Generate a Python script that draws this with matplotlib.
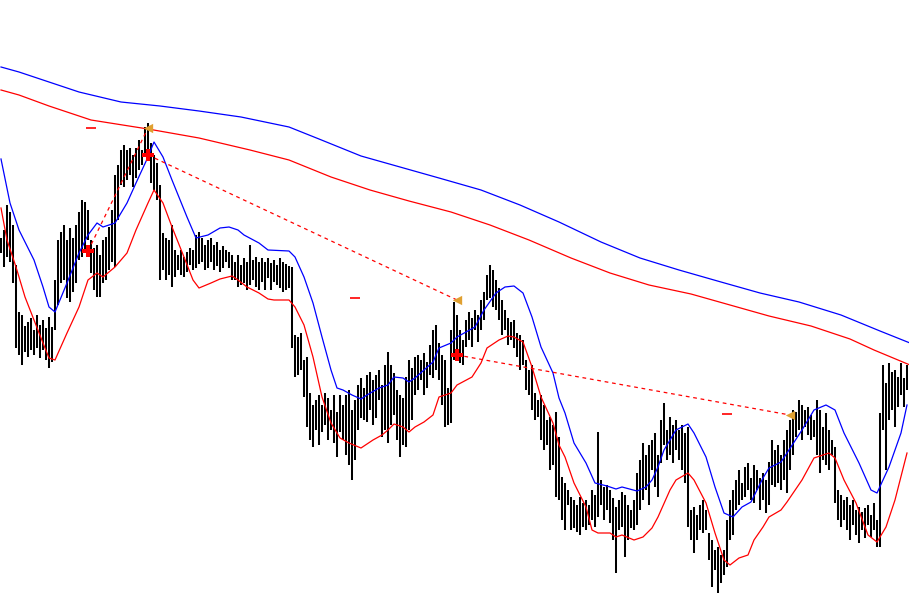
import matplotlib
matplotlib.use("Agg")
import matplotlib.pyplot as plt

# ---- bar data (high / low per bar, arbitrary price units) ----
highs = [362, 370, 395, 388, 375, 335, 288, 285, 274, 278, 282, 270, 285, 275, 280, 272, 283, 273, 320, 360,
         368, 375, 360, 372, 362, 375, 388, 400, 398, 390, 360, 352, 355, 345, 360, 363, 373, 390, 425, 435,
         450, 455, 450, 452, 445, 452, 460, 450, 473, 477, 457, 445, 437, 415, 367, 362, 360, 375, 350, 345,
         350, 343, 348, 352, 350, 365, 368, 362, 355, 360, 362, 355, 358, 350, 354, 350, 348, 345, 338, 345,
         335, 342, 338, 355, 340, 343, 338, 342, 338, 342, 337, 340, 335, 342, 338, 336, 334, 333, 265, 263,
         267, 240, 243, 207, 195, 200, 205, 195, 207, 202, 190, 205, 188, 205, 195, 205, 210, 190, 200, 215,
         222, 212, 225, 228, 220, 225, 230, 215, 235, 248, 235, 227, 210, 205, 202, 223, 240, 232, 243, 245,
         240, 247, 238, 255, 270, 275, 257, 245, 240, 212, 270, 298, 285, 270, 260, 280, 288, 282, 290, 285,
         300, 308, 325, 335, 330, 320, 312, 300, 290, 282, 278, 280, 267, 265, 260, 240, 230, 235, 207, 200,
         205, 195, 180, 183, 175, 188, 163, 123, 117, 110, 103, 100, 95, 103, 97, 100, 95, 110, 105, 168,
         120, 113, 115, 110, 102, 93, 100, 108, 105, 95, 90, 100, 127, 140, 157, 145, 155, 160, 167, 145,
         180, 197, 170, 183, 175, 180, 170, 175, 167, 173, 90, 93, 85, 95, 100, 90, 67, 60, 50, 53,
         45, 50, 80, 100, 110, 120, 130, 117, 133, 137, 122, 135, 130, 122, 127, 120, 138, 160, 150, 155,
         145, 160, 170, 180, 190, 188, 200, 195, 190, 193, 185, 180, 200, 190, 173, 187, 170, 160, 153, 110,
         105, 100, 103, 95, 100, 90, 93, 88, 92, 95, 85, 97, 80, 187, 235, 217, 237, 228, 230, 223,
         237, 222, 235]
lows = [347, 333, 343, 338, 317, 252, 245, 235, 248, 243, 250, 245, 252, 242, 250, 240, 232, 238, 270, 295,
        317, 320, 302, 298, 308, 317, 340, 343, 350, 360, 327, 310, 303, 303, 317, 320, 330, 338, 333, 380,
        415, 413, 420, 425, 413, 422, 430, 435, 447, 450, 417, 410, 400, 320, 330, 320, 325, 313, 323, 330,
        325, 323, 328, 335, 330, 332, 336, 338, 330, 332, 338, 330, 334, 328, 332, 338, 332, 320, 320, 313,
        315, 317, 310, 315, 320, 313, 310, 318, 310, 322, 310, 318, 315, 312, 308, 310, 312, 252, 223, 225,
        230, 203, 173, 160, 153, 170, 155, 168, 175, 160, 170, 157, 143, 168, 160, 145, 135, 120, 140, 170,
        182, 180, 178, 190, 175, 182, 200, 163, 170, 157, 175, 185, 160, 143, 155, 153, 170, 180, 205, 210,
        220, 205, 212, 225, 222, 230, 220, 195, 173, 175, 177, 240, 250, 237, 235, 253, 260, 253, 270, 258,
        270, 280, 300, 302, 293, 290, 280, 265, 270, 255, 260, 252, 243, 230, 235, 210, 205, 190, 180, 183,
        160, 150, 155, 130, 135, 103, 100, 80, 70, 95, 70, 72, 68, 65, 73, 70, 75, 80, 73, 83,
        95, 80, 90, 77, 60, 27, 70, 73, 43, 60, 72, 70, 75, 90, 100, 110, 95, 130, 113, 103,
        137, 155, 140, 145, 137, 150, 140, 130, 117, 73, 60, 47, 60, 70, 67, 70, 40, 13, 30, 7,
        17, 25, 33, 60, 65, 90, 95, 100, 103, 110, 100, 97, 110, 90, 100, 87, 95, 115, 113, 117,
        110, 120, 107, 130, 145, 163, 170, 160, 173, 165, 160, 163, 145, 127, 140, 135, 130, 145, 97, 80,
        73, 80, 70, 60, 75, 65, 57, 70, 62, 75, 63, 70, 53, 53, 170, 130, 180, 190, 173, 193,
        205, 193, 210]

# ---- short-term band lines (bar index, level) ----
upper_idx = [0, 3, 6, 11, 14, 16, 18, 22, 26, 29, 32, 34, 38, 42, 45, 49, 51, 54, 57, 62, 65, 69, 73, 76,
             79, 81, 86, 89, 96, 98, 101, 104, 107, 110, 112, 114, 117, 120, 122, 126, 129, 131, 134, 136,
             138, 141, 144, 146, 150, 152, 158, 161, 165, 168, 171, 174, 177, 180, 184, 186, 188, 191, 195,
             198, 202, 205, 207, 212, 215, 217, 219, 221, 225, 229, 231, 235, 238, 241, 244, 247, 250, 254,
             256, 260, 262, 267, 271, 275, 278, 281, 286, 290, 292, 296, 300, 302]
upper_val = [441, 397, 370, 340, 313, 293, 288, 317, 347, 365, 377, 373, 377, 397, 417, 443, 458, 443, 420,
             383, 362, 365, 372, 373, 370, 365, 357, 350, 349, 343, 323, 297, 263, 230, 212, 210, 205, 201,
             205, 212, 215, 223, 222, 218, 222, 230, 238, 252, 257, 263, 273, 290, 307, 313, 314, 307, 283,
             253, 227, 202, 187, 157, 137, 117, 114, 111, 113, 109, 113, 120, 133, 150, 170, 176, 167, 143,
             113, 87, 83, 93, 98, 122, 132, 138, 147, 170, 190, 195, 190, 167, 137, 110, 107, 133, 167, 195]
lower_idx = [0, 2, 5, 8, 11, 14, 16, 18, 22, 26, 29, 32, 34, 38, 42, 45, 49, 51, 54, 57, 61, 64, 66, 70,
             73, 77, 79, 82, 86, 89, 91, 96, 98, 101, 104, 107, 110, 113, 116, 120, 124, 127, 129, 131, 134,
             136, 138, 141, 144, 146, 150, 152, 157, 160, 162, 166, 169, 171, 174, 177, 180, 184, 186, 188,
             191, 195, 197, 199, 203, 205, 207, 211, 214, 217, 219, 223, 225, 229, 231, 235, 238, 241, 243,
             246, 249, 251, 254, 256, 260, 262, 267, 271, 276, 278, 281, 285, 289, 292, 295, 298, 302]
lower_val = [392, 360, 333, 303, 280, 257, 242, 240, 267, 293, 320, 327, 323, 333, 347, 370, 397, 410, 397,
             373, 343, 320, 312, 317, 321, 324, 320, 313, 307, 301, 300, 300, 293, 275, 243, 203, 177, 162,
             157, 152, 160, 165, 170, 176, 173, 168, 173, 178, 185, 203, 207, 215, 223, 237, 252, 260, 264,
             263, 258, 233, 203, 177, 155, 143, 117, 93, 70, 67, 67, 63, 65, 60, 63, 72, 83, 110, 120, 127,
             120, 97, 67, 40, 35, 42, 45, 60, 73, 83, 90, 98, 120, 142, 147, 142, 120, 97, 65, 58, 73, 100,
             147]

# ---- long-term lines ----
slow_blue_idx = [0, 6, 16, 26, 40, 53, 66, 80, 96, 106, 120, 133, 146, 160, 173, 186, 200, 213, 226, 240,
                 253, 266, 280, 293, 303]
slow_blue_val = [533, 528, 518, 508, 498, 494, 489, 483, 473, 461, 444, 433, 422, 410, 395, 378, 358, 342,
                 330, 318, 307, 298, 285, 269, 257]
slow_red_idx = [0, 6, 16, 30, 49, 66, 83, 96, 110, 123, 136, 150, 163, 176, 190, 203, 216, 230, 243, 256,
                270, 283, 291, 303]
slow_red_val = [510, 505, 494, 480, 471, 462, 450, 440, 423, 410, 399, 388, 375, 360, 342, 327, 315, 306,
                295, 284, 274, 261, 250, 235]

# ---- signal markers ----
tri_idx = [49, 152, 263]
tri_val = [472, 300, 185]
cross_idx = [29, 49, 152]
cross_val = [349, 445, 245]
dash_idx = [30, 118, 242]
dash_val = [472, 302, 186]

fig = plt.figure(figsize=(9.09, 6.03), dpi=100)
ax = fig.add_axes([0, 0, 1, 1])
ax.set_facecolor("white")
fig.patch.set_facecolor("white")

bars_x = list(range(len(highs)))
ax.vlines(bars_x, lows, highs, color="black", linewidth=1.45, zorder=2)

ax.plot(slow_blue_idx, slow_blue_val, color="#0000FF", linewidth=0.9, zorder=3)
ax.plot(slow_red_idx, slow_red_val, color="#FF0000", linewidth=0.9, zorder=3)
ax.plot(upper_idx, upper_val, color="#0000FF", linewidth=0.9, zorder=3)
ax.plot(lower_idx, lower_val, color="#FF0000", linewidth=0.9, zorder=3)

# dotted connectors: cross k -> triangle k
for k in range(3):
    ax.plot([cross_idx[k], tri_idx[k]], [cross_val[k], tri_val[k]], color="#FF0000",
            linewidth=0.9, linestyle=(0, (3, 3)), zorder=4)

ax.scatter(tri_idx, tri_val, marker="<", s=45, color="#E0A030", zorder=6, linewidths=0)
ax.scatter(cross_idx, cross_val, marker="P", s=65, color="#FF0000", zorder=6, linewidths=0)
ax.scatter(dash_idx, dash_val, marker="_", s=45, color="#FF0000", zorder=6, linewidths=1.2)

ax.set_xlim(-1 / 3, 302.667)
ax.set_ylim(-3, 600)
ax.axis("off")

fig.savefig("out.png", dpi=100, facecolor="white")
